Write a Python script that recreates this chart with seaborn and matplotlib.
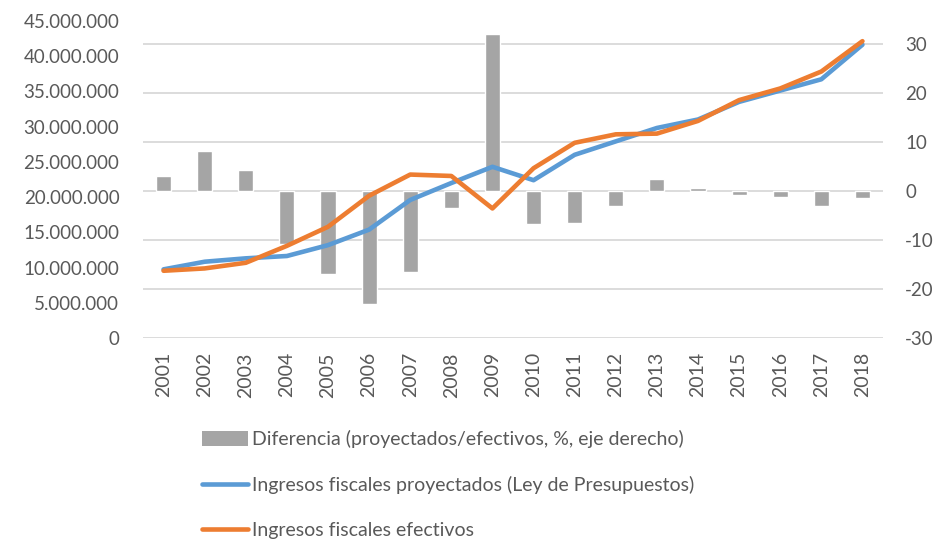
import numpy as np
import pandas as pd
import matplotlib
matplotlib.use("Agg")
import matplotlib.pyplot as plt
from matplotlib.patches import Patch
from matplotlib.lines import Line2D
import seaborn as sns

years = [str(y) for y in range(2001, 2019)]
diferencia = [3.1, 8.2, 4.4, -10.7, -16.9, -23.1, -16.4, -3.4, 32.0,
              -6.6, -6.5, -3.1, 2.5, 0.7, -0.75, -1.2, -3.1, -1.4]
proyectados = [9.77, 10.85, 11.33, 11.66, 13.2, 15.4, 19.6, 22.0, 24.3,
               22.4, 26.0, 27.9, 29.8, 31.0, 33.5, 35.1, 36.7, 41.6]
efectivos = [9.57, 9.9, 10.7, 13.1, 15.8, 20.2, 23.2, 23.0, 18.4,
             24.1, 27.7, 28.9, 29.0, 30.8, 33.75, 35.4, 37.8, 42.1]
left_ticks = [0, 5, 10, 15, 20, 25, 30, 35, 40, 45]
left_tick_labels = ["0", "5.000.000", "10.000.000", "15.000.000", "20.000.000",
                    "25.000.000", "30.000.000", "35.000.000", "40.000.000", "45.000.000"]
right_ticks = [-30, -20, -10, 0, 10, 20, 30]

lab_bar = "Diferencia (proyectados/efectivos, %, eje derecho)"
lab_proy = "Ingresos fiscales proyectados (Ley de Presupuestos)"
lab_efec = "Ingresos fiscales efectivos"

sns.set_theme(style="white")
plt.rcParams['font.family'] = ['Lato', 'DejaVu Sans']
txt = "#595959"

df = pd.DataFrame({"year": years, "dif": diferencia,
                   "proy": np.array(proyectados) * 1e6,
                   "efec": np.array(efectivos) * 1e6,
                   "pos": np.arange(len(years))})

fig = plt.figure(figsize=(9.41, 5.42), dpi=100)
left, right = 143 / 941, 883 / 941
bottom, top = 1 - 338.3 / 542, 1 - 20.7 / 542
ax_bar = fig.add_axes([left, bottom, right - left, top - bottom])

sns.barplot(data=df, x="year", y="dif", color="#a5a5a5", saturation=1,
            width=0.37, ax=ax_bar, zorder=2)
ax_bar.set_ylim(-30, 34.75)
ax_bar.set_xlim(-0.5, len(years) - 0.5)
ax_bar.set_yticks(right_ticks)
ax_bar.set_yticklabels([str(t) for t in right_ticks])
ax_bar.grid(axis="y", color="#d9d9d9", linewidth=1.3, zorder=0)
ax_bar.set_axisbelow(True)
ax_bar.set_xlabel("")
ax_bar.set_ylabel("")
ax_bar.tick_params(axis="x", length=0, pad=10, labelsize=14, labelcolor=txt,
                   labelrotation=90)
for s in ax_bar.spines.values():
    s.set_visible(False)

ax_line = ax_bar.twinx()
sns.lineplot(data=df, x="pos", y="proy", color="#5b9bd5", linewidth=3.3,
             ax=ax_line, solid_capstyle="round")
sns.lineplot(data=df, x="pos", y="efec", color="#ed7d31", linewidth=3.3,
             ax=ax_line, solid_capstyle="round")
ax_line.set_ylim(0, 45e6)
ax_line.set_yticks([t * 1e6 for t in left_ticks])
ax_line.set_yticklabels(left_tick_labels)
ax_line.yaxis.tick_left()
ax_line.set_xlabel("")
ax_line.set_ylabel("")
ax_line.tick_params(axis="y", length=0, pad=17, labelsize=13.5, labelcolor=txt)
ax_line.grid(False)
for s in ax_line.spines.values():
    s.set_visible(False)
ax_line.set_xlim(-0.5, len(years) - 0.5)

# right axis ticks for the bar axis (after twinx, which resets them)
ax_bar.yaxis.tick_right()
ax_bar.tick_params(axis="y", length=0, pad=16, labelsize=13.5, labelcolor=txt)

handles = [Patch(facecolor="#a5a5a5", edgecolor="none"),
           Line2D([0], [0], color="#5b9bd5", linewidth=3.3, solid_capstyle="round"),
           Line2D([0], [0], color="#ed7d31", linewidth=3.3, solid_capstyle="round")]
fig.legend(handles, [lab_bar, lab_proy, lab_efec], loc="upper left",
           bbox_to_anchor=(194 / 941, 1 - 422 / 542), frameon=False,
           fontsize=14, labelcolor=txt, handlelength=2.4, handleheight=0.8,
           handletextpad=0.2, labelspacing=1.45, borderaxespad=0)

fig.savefig("out.png", dpi=100)
